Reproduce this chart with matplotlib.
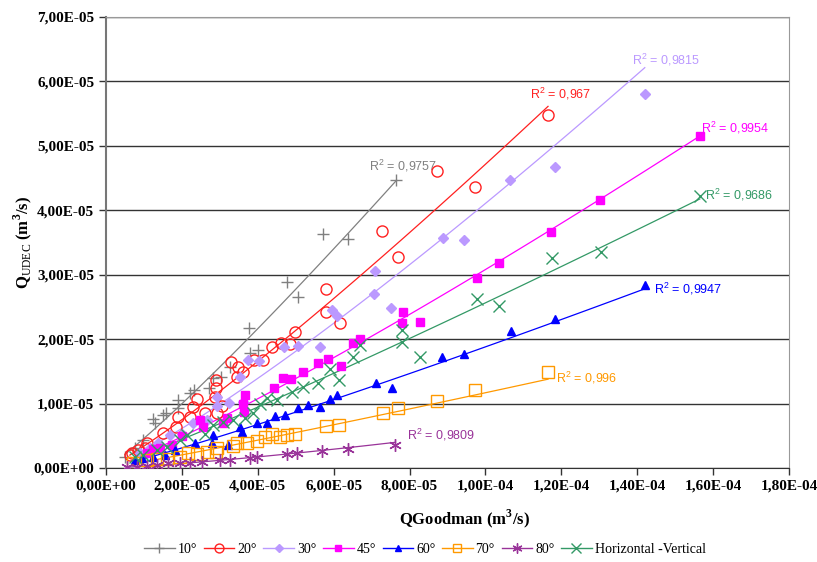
import numpy as np
import matplotlib
matplotlib.use("Agg")
import matplotlib.pyplot as plt
from matplotlib.ticker import FuncFormatter, MultipleLocator
from matplotlib.lines import Line2D

plt.rcParams['mathtext.fontset'] = 'custom'
plt.rcParams['mathtext.rm'] = 'Liberation Serif'
plt.rcParams['mathtext.bf'] = 'Liberation Serif:bold'
plt.rcParams['mathtext.sf'] = 'Liberation Sans'

# data in units of 1e-5 m3/s (x = QGoodman, y = QUDEC)
x10 = [7.64, 5.72, 6.38, 4.77, 5.06, 3.77, 3.79, 4.01, 3.27, 3.03, 2.82, 2.71, 2.21, 2.32,
       1.90, 1.90, 1.58, 1.50, 1.29, 1.24, 0.97, 0.76, 0.50]
y10 = [4.47, 3.63, 3.56, 2.89, 2.66, 2.17, 1.79, 1.83, 1.57, 1.41, 1.40, 1.24, 1.16, 1.21,
       0.93, 1.06, 0.85, 0.82, 0.70, 0.76, 0.43, 0.31, 0.17]

x20 = [11.65, 8.72, 9.72, 7.27, 7.69, 5.80, 5.80, 6.17, 4.98, 4.85, 4.61, 4.37, 4.14, 3.90,
       3.48, 3.61, 3.45, 3.29, 2.40, 2.29, 2.21, 2.90, 2.90, 2.87, 2.92, 2.61, 3.06, 1.90,
       1.84, 1.50, 1.08, 0.84, 0.69, 1.03, 0.63]
y20 = [5.48, 4.61, 4.36, 3.68, 3.28, 2.78, 2.42, 2.25, 2.11, 1.93, 1.94, 1.88, 1.68, 1.68,
       1.57, 1.49, 1.41, 1.65, 1.07, 0.95, 0.79, 1.37, 1.24, 1.10, 0.85, 0.85, 0.96, 0.79,
       0.64, 0.54, 0.39, 0.28, 0.23, 0.31, 0.20]

x30 = [14.20, 11.83, 10.65, 8.88, 9.43, 7.09, 7.06, 7.51, 5.96, 6.09, 5.64, 5.06, 4.69, 4.03,
       3.74, 3.53, 3.61, 3.24, 2.66, 2.92, 2.92, 2.29, 2.00, 1.69, 1.37, 1.16, 0.90]
y30 = [5.81, 4.67, 4.47, 3.57, 3.54, 3.06, 2.70, 2.48, 2.45, 2.36, 1.88, 1.89, 1.88, 1.66,
       1.68, 1.41, 1.02, 1.01, 0.75, 1.10, 0.96, 0.70, 0.53, 0.51, 0.39, 0.31, 0.23]

x45 = [15.65, 13.02, 11.73, 10.36, 9.78, 7.83, 7.80, 8.27, 6.51, 6.69, 5.85, 5.59, 6.19, 5.19,
       4.87, 4.66, 4.43, 3.66, 3.61, 3.64, 3.19, 3.08, 2.48, 2.56, 2.00, 1.74, 1.42, 1.24, 1.08]
y45 = [5.16, 4.16, 3.66, 3.18, 2.95, 2.42, 2.25, 2.27, 1.94, 2.00, 1.69, 1.63, 1.58, 1.49,
       1.38, 1.40, 1.24, 1.13, 0.99, 0.87, 0.78, 0.70, 0.75, 0.64, 0.50, 0.36, 0.31, 0.30, 0.23]

x60 = [14.20, 11.83, 10.67, 9.43, 8.85, 7.11, 7.54, 6.09, 5.90, 5.64, 5.32, 5.06, 4.72, 4.45,
       4.24, 3.98, 3.58, 3.53, 3.21, 2.82, 2.79, 2.35, 1.82, 1.55, 1.24, 0.95, 0.76]
y60 = [2.84, 2.31, 2.13, 1.77, 1.72, 1.32, 1.24, 1.13, 1.07, 0.95, 0.98, 0.93, 0.82, 0.81,
       0.70, 0.70, 0.56, 0.64, 0.36, 0.51, 0.39, 0.39, 0.28, 0.20, 0.17, 0.16, 0.12]

x70 = [11.65, 9.72, 8.72, 7.69, 7.30, 6.14, 5.80, 4.98, 4.77, 4.59, 4.37, 4.19, 3.98, 3.72,
       3.45, 3.35, 2.92, 2.90, 2.66, 2.40, 2.16, 1.95, 1.61, 1.34, 1.08, 0.71]
y70 = [1.49, 1.21, 1.04, 0.93, 0.85, 0.67, 0.65, 0.53, 0.51, 0.48, 0.53, 0.48, 0.42, 0.39,
       0.39, 0.34, 0.31, 0.25, 0.25, 0.22, 0.23, 0.17, 0.14, 0.14, 0.12, 0.08]

x80 = [7.62, 6.38, 5.69, 5.03, 4.77, 3.98, 3.79, 3.27, 3.00, 2.53, 2.21, 1.95, 1.63, 1.34,
       1.08, 0.82, 0.55]
y80 = [0.36, 0.30, 0.26, 0.23, 0.22, 0.17, 0.16, 0.12, 0.12, 0.09, 0.08, 0.08, 0.08, 0.05,
       0.03, 0.02, 0.01]

xhv = [15.65, 13.04, 11.75, 9.78, 10.36, 7.80, 7.80, 8.27, 6.69, 6.51, 6.14, 5.90, 5.59, 5.19,
       4.90, 4.51, 4.24, 4.06, 3.87, 3.66, 3.35, 3.08, 2.82, 2.61, 2.13, 1.95, 1.61, 1.34,
       0.97, 0.76]
yhv = [4.22, 3.35, 3.26, 2.62, 2.52, 2.14, 1.96, 1.72, 1.91, 1.72, 1.37, 1.54, 1.32, 1.26,
       1.18, 1.06, 1.09, 0.99, 0.85, 0.78, 0.75, 0.71, 0.67, 0.53, 0.51, 0.43, 0.33, 0.28,
       0.20, 0.17]

labels = ['10°', '20°', '30°', '45°', '60°', '70°', '80°', 'Horizontal -Vertical']
r2_text = ['0,9757', '0,967', '0,9815', '0,9954', '0,9947', '0,996', '0,9809', '0,9686']

series = [(x10, y10), (x20, y20), (x30, y30), (x45, y45),
          (x60, y60), (x70, y70), (x80, y80), (xhv, yhv)]
colors = ['#808080', '#FF2020', '#BB99FF', '#FF00FF', '#0000FF', '#FF9900', '#993399', '#339966']
markers = ['+', 'o', 'D', 's', '^', 's', (6, 2, 0), 'x']
msizes = [9, 8, 5, 5.5, 6, 8, 9, 9]
filled = [True, False, True, True, True, False, True, True]
# R2 label offsets from trend line end, in pixels
lab_off = [(7, 15), (-18, 12), (-13, 8), (1, 8), (9, 0), (8, 1), (12, 7), (5, 4)]
lab_ha = ['center', 'left', 'left', 'left', 'left', 'left', 'left', 'left']

fig = plt.figure(figsize=(8.17, 5.62), dpi=100)
ax = fig.add_axes([0.1297, 0.1673, 0.836, 0.8025])

for i, (xs, ys) in enumerate(series):
    xs = np.array(xs) * 1e-5
    ys = np.array(ys) * 1e-5
    c = colors[i]
    if filled[i]:
        ax.plot(xs, ys, linestyle='none', marker=markers[i], color=c, ms=msizes[i],
                mew=1.0, zorder=3)
    else:
        ax.plot(xs, ys, linestyle='none', marker=markers[i], mfc='none', mec=c,
                ms=msizes[i], mew=1.0, zorder=3)
    # power trend line (fit in log space) over the data range
    b, loga = np.polyfit(np.log(xs), np.log(ys), 1)
    xl = np.linspace(xs.min(), xs.max(), 100)
    yl = np.exp(loga) * xl ** b
    ax.plot(xl, yl, color=c, lw=0.9, zorder=2)
    ax.annotate(r'R$^\mathsf{2}$ = ' + r2_text[i], (xl[-1], yl[-1]),
                xytext=lab_off[i], textcoords='offset pixels', color=c,
                fontsize=9, family='Liberation Sans', ha=lab_ha[i], va='center')

ax.set_xlim(0, 1.8e-4)
ax.set_ylim(0, 7e-5)
ax.xaxis.set_major_locator(MultipleLocator(2e-5))
ax.yaxis.set_major_locator(MultipleLocator(1e-5))


def sci_comma(v, pos):
    s = '%.2E' % v
    return s.replace('.', ',')


ax.xaxis.set_major_formatter(FuncFormatter(sci_comma))
ax.yaxis.set_major_formatter(FuncFormatter(sci_comma))
ax.grid(axis='y', color='#333333', lw=1.0)
ax.set_axisbelow(True)
for sp in ['top', 'right']:
    ax.spines[sp].set_color('#999999')
ax.spines['left'].set_color('#777777')
ax.spines['left'].set_linewidth(1.5)
ax.spines['bottom'].set_color('#333333')
ax.tick_params(axis='both', direction='out', length=5, width=1, colors='#333333')
for t in ax.get_xticklabels() + ax.get_yticklabels():
    t.set_fontfamily('Liberation Serif')
    t.set_fontweight('bold')
    t.set_fontsize(11)
    t.set_color('black')

ax.set_xlabel(r'QGoodman (m$^{\mathbf{3}}$/s)', fontsize=12, fontweight='bold',
              family='Liberation Serif')
ax.xaxis.set_label_coords(0.525, -0.088)
ax.set_ylabel(r'Q$_{\mathrm{UDEC}}$ (m$^{\mathbf{3}}$/s)', fontsize=12, fontweight='bold',
              family='Liberation Serif')
ax.yaxis.set_label_coords(-0.105, 0.5)

handles = []
for i in range(8):
    if filled[i]:
        h = Line2D([], [], color=colors[i], marker=markers[i], ms=msizes[i] * 0.8, lw=1)
    else:
        h = Line2D([], [], color=colors[i], marker=markers[i], mfc='none', mec=colors[i],
                   ms=msizes[i] * 0.8, lw=1)
    handles.append(h)
fig.legend(handles, labels, loc='center', bbox_to_anchor=(0.52, 0.022), ncol=8,
           frameon=False, prop={'family': 'Liberation Serif', 'size': 10},
           handlelength=2.2, handletextpad=0.2, columnspacing=0.5)

fig.savefig('out.png', dpi=100)
